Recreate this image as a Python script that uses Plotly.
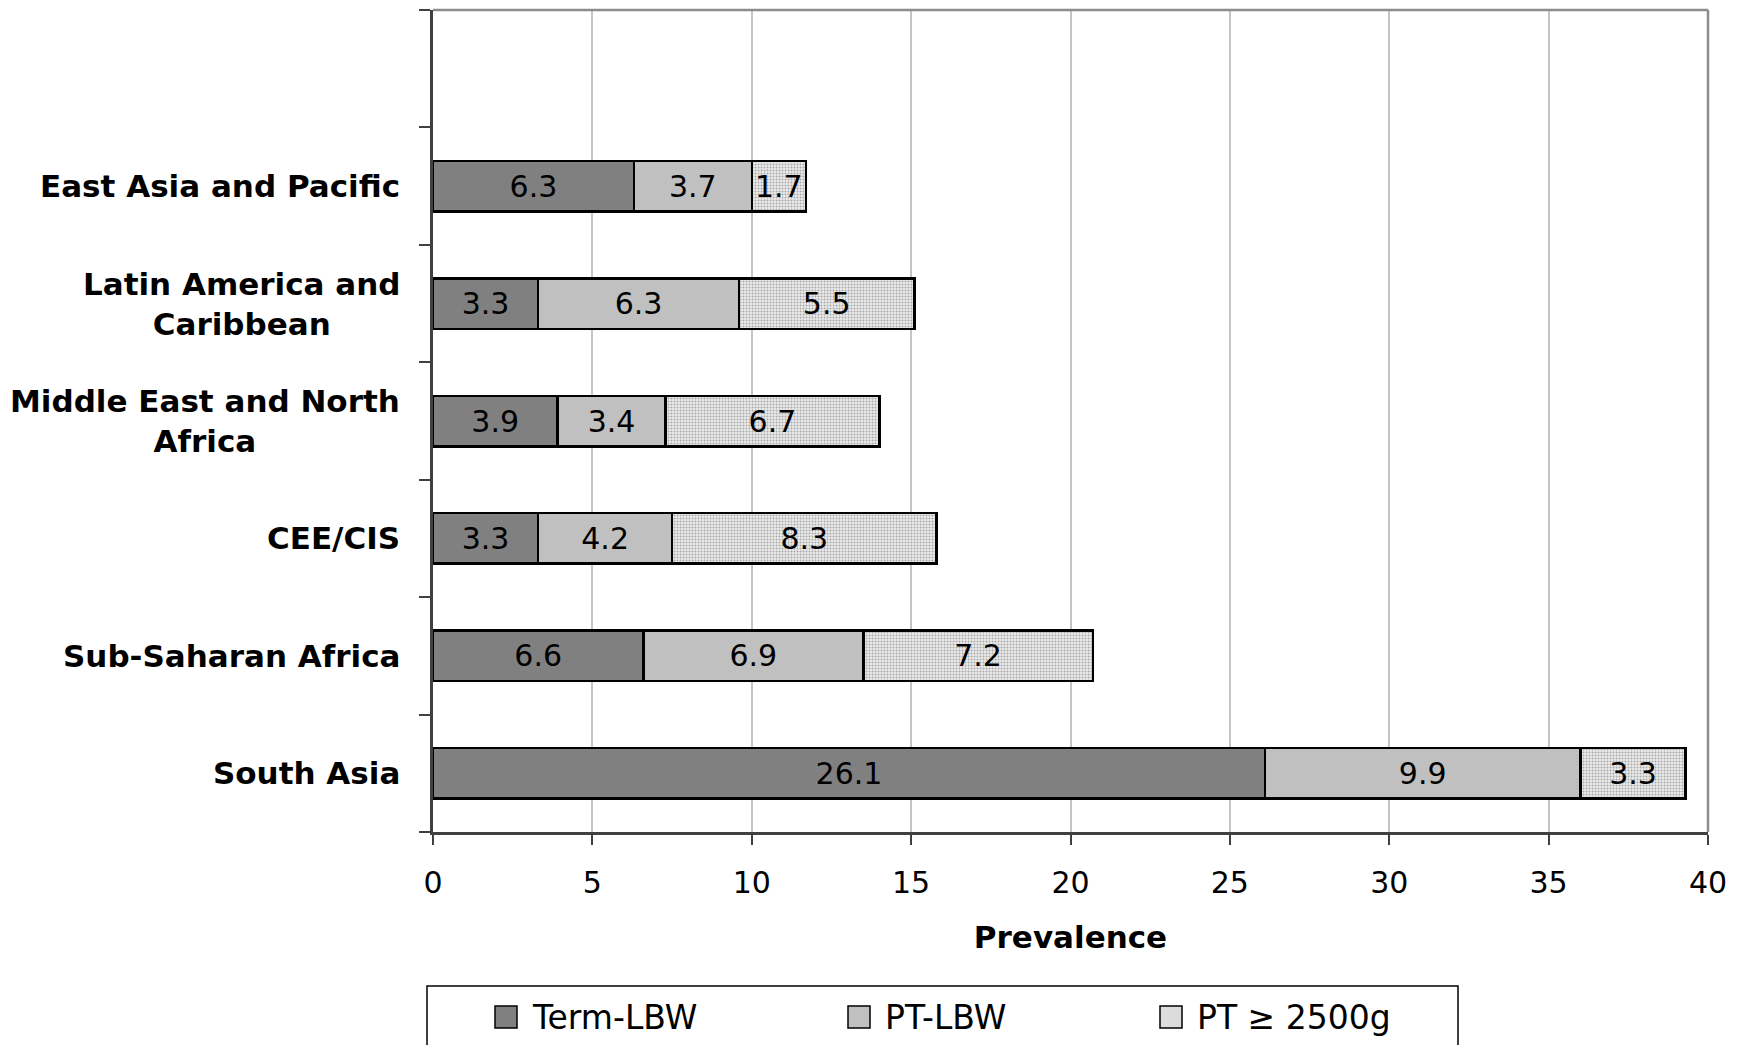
import plotly.graph_objects as go

# Regions, listed bottom-to-top on the chart
regions = [
    "South Asia",
    "Sub-Saharan Africa",
    "CEE/CIS",
    "Middle East and North<br>Africa",
    "Latin America and<br>Caribbean",
    "East Asia and Pacific",
]

# Prevalence components (%)
term_lbw = [26.1, 6.6, 3.3, 3.9, 3.3, 6.3]
pt_lbw = [9.9, 6.9, 4.2, 3.4, 6.3, 3.7]
pt_normal = [3.3, 7.2, 8.3, 6.7, 5.5, 1.7]

series_names = ["Term-LBW", "PT-LBW", "PT ≥ 2500g"]
x_ticks = [0, 5, 10, 15, 20, 25, 30, 35, 40]

W, H = 1738, 1045
ML, MR, MT, MB = 433, 30, 10, 213
PW, PH = W - ML - MR, H - MT - MB

DARK = "#808080"
MID = "#c0c0c0"
LIGHT_BG = "#ececec"
LIGHT_FG = "#a8a8a8"

FONT = "DejaVu Sans"


def px_x(px):
    return (px - ML) / PW


def px_y(py):
    return (H - MB - py) / PH


ypos = list(range(len(regions)))

fig = go.Figure()

bar_common = dict(
    orientation="h",
    width=0.43,
    texttemplate="%{x}",
    textposition="inside",
    insidetextanchor="middle",
    textangle=0,
    constraintext="none",
    textfont=dict(family=FONT, size=30, color="black"),
    insidetextfont=dict(family=FONT, size=30, color="black"),
    showlegend=False,
    hoverinfo="x+name",
)

fig.add_trace(go.Bar(
    y=ypos, x=term_lbw, name=series_names[0],
    marker=dict(color=DARK, line=dict(color="black", width=2.5)),
    **bar_common,
))
fig.add_trace(go.Bar(
    y=ypos, x=pt_lbw, name=series_names[1],
    marker=dict(color=MID, line=dict(color="black", width=2.5)),
    **bar_common,
))
fig.add_trace(go.Bar(
    y=ypos, x=pt_normal, name=series_names[2],
    marker=dict(
        color=LIGHT_BG,
        line=dict(color="black", width=2.5),
        pattern=dict(shape=".", bgcolor=LIGHT_BG, fgcolor=LIGHT_FG,
                     size=3, solidity=0.35, fillmode="replace"),
    ),
    **bar_common,
))

# Category labels, centred line by line, to the left of the axis
annotations = []
for i, name in enumerate(regions):
    annotations.append(dict(
        x=px_x(402), xref="paper", xanchor="right",
        y=i, yref="y", yanchor="middle",
        text=name, showarrow=False, align="center",
        font=dict(family=FONT, size=31, color="black", weight="bold"),
    ))

# Legend box drawn below the axis
shapes = [
    # plot frame: top and right edges
    dict(type="line", xref="paper", yref="paper", x0=0, x1=1, y0=1, y1=1,
         line=dict(color="#8c8c8c", width=2.5), layer="above"),
    dict(type="line", xref="paper", yref="paper", x0=1, x1=1, y0=0, y1=1,
         line=dict(color="#8c8c8c", width=2.5), layer="above"),
    dict(type="rect", xref="paper", yref="paper",
         x0=px_x(427), x1=px_x(1458), y0=px_y(1060), y1=px_y(986),
         line=dict(color="black", width=1.5), fillcolor="white", layer="above"),
]
legend_sq = [495, 848, 1160]
legend_fill = [DARK, MID, "#dcdcdc"]
sq_top, sq_size = 1006, 22
for name, sx, fill in zip(series_names, legend_sq, legend_fill):
    shapes.append(dict(
        type="rect", xref="paper", yref="paper",
        x0=px_x(sx), x1=px_x(sx + sq_size),
        y0=px_y(sq_top + sq_size), y1=px_y(sq_top),
        line=dict(color="black", width=1.5), fillcolor=fill, layer="above",
    ))
    annotations.append(dict(
        x=px_x(sx + sq_size + 13), xref="paper", xanchor="left",
        y=px_y(sq_top + sq_size / 2), yref="paper", yanchor="middle",
        text=name, showarrow=False,
        font=dict(family=FONT, size=33, color="black"),
    ))

fig.update_layout(
    width=W, height=H,
    margin=dict(l=ML, r=MR, t=MT, b=MB, autoexpand=False),
    barmode="stack",
    paper_bgcolor="white",
    plot_bgcolor="white",
    showlegend=False,
    annotations=annotations,
    shapes=shapes,
    xaxis=dict(
        range=[0, 40],
        tickvals=x_ticks,
        ticks="outside", ticklen=10, tickwidth=1.5, tickcolor="#404040",
        tickfont=dict(family=FONT, size=30, color="black"),
        ticklabelstandoff=12,
        showgrid=True, gridcolor="#c4c4c4", gridwidth=1.5,
        zeroline=False,
        showline=True, linecolor="#404040", linewidth=2.5,
        title=dict(text="Prevalence", standoff=28,
                   font=dict(family=FONT, size=31, color="black", weight="bold")),
        fixedrange=True,
    ),
    yaxis=dict(
        range=[-0.5, len(regions) + 0.5],
        tickvals=[i - 0.5 for i in range(len(regions) + 2)],
        showticklabels=False,
        ticks="outside", ticklen=11, tickwidth=1.5, tickcolor="#404040",
        showgrid=False, zeroline=False,
        showline=True, linecolor="#404040", linewidth=2.5,
        fixedrange=True,
    ),
)

fig.write_html("out.html")
